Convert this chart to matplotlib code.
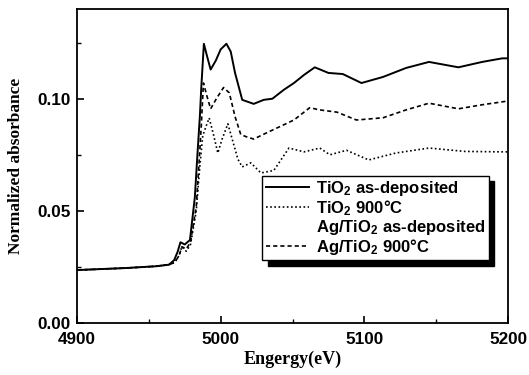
import numpy as np
import matplotlib
matplotlib.use("Agg")
import matplotlib.pyplot as plt
from matplotlib.ticker import MultipleLocator

# TiO2 as-deposited (solid)
e_asdep = [4900, 4934, 4955, 4964, 4967.6, 4970, 4972, 4975, 4978.6, 4982, 4984, 4985.5, 4986.5,
           4988.3, 4990.5, 4993, 4996.6, 5000, 5004, 5007, 5010, 5015, 5023, 5030, 5036, 5044,
           5051, 5058, 5065.5, 5075, 5085, 5098, 5113, 5129, 5145, 5165.5, 5182, 5196, 5200]
a_asdep = [0.0236, 0.0245, 0.0253, 0.026, 0.028, 0.0317, 0.036, 0.035, 0.037, 0.056, 0.077, 0.092, 0.105,
           0.1245, 0.119, 0.113, 0.117, 0.122, 0.1245, 0.121, 0.1115, 0.0995, 0.0977, 0.0995, 0.100, 0.104,
           0.107, 0.1106, 0.114, 0.1115, 0.111, 0.107, 0.1097, 0.1137, 0.1164, 0.114, 0.1164, 0.118, 0.118]

# Ag/TiO2 900C (dashed, middle)
e_ag900 = [4900, 4934, 4955, 4964, 4968, 4971, 4973, 4976, 4979, 4983, 4985, 4986.5, 4988, 4990.5,
           4993, 4997, 5002, 5006, 5010, 5014, 5018, 5023, 5032, 5041, 5051, 5062, 5069, 5081,
           5094.5, 5113, 5129, 5145, 5165.5, 5182, 5196, 5200]
a_ag900 = [0.0236, 0.0245, 0.0253, 0.026, 0.027, 0.030, 0.034, 0.033, 0.036, 0.052, 0.072, 0.088, 0.107, 0.101,
           0.0955, 0.100, 0.105, 0.1026, 0.092, 0.084, 0.083, 0.082, 0.0848, 0.0875, 0.0905, 0.096, 0.095, 0.094,
           0.0905, 0.0915, 0.095, 0.098, 0.0955, 0.0973, 0.0986, 0.099]

# TiO2 900C (dotted, lower)
e_ti900 = [4900, 4934, 4955, 4964, 4968, 4971, 4973, 4976, 4979, 4983, 4985.5, 4987.5, 4990, 4992,
           4995, 4998, 5001, 5005, 5008, 5012, 5015, 5021, 5028, 5037, 5047.5, 5058, 5069, 5076,
           5087.6, 5103, 5122, 5145, 5170, 5196, 5200]
a_ti900 = [0.0236, 0.0245, 0.0253, 0.026, 0.027, 0.030, 0.034, 0.032, 0.035, 0.050, 0.070, 0.0834, 0.088, 0.0914,
           0.084, 0.0758, 0.082, 0.0888, 0.082, 0.073, 0.0696, 0.0714, 0.0669, 0.068, 0.078, 0.0763, 0.078, 0.075,
           0.077, 0.0727, 0.0758, 0.078, 0.0765, 0.0763, 0.0763]

labels = ["TiO$_2$ as-deposited", "TiO$_2$ 900°C",
          "Ag/TiO$_2$ as-deposited", "Ag/TiO$_2$ 900°C"]

plt.rcParams['mathtext.fontset'] = 'custom'
plt.rcParams['mathtext.rm'] = 'Liberation Sans:bold'
plt.rcParams['mathtext.it'] = 'Liberation Sans:bold'

fig = plt.figure(figsize=(5.29, 3.75), dpi=100)
ax = fig.add_axes([0.1456, 0.1387, 0.8147, 0.8373])

l1, = ax.plot(e_asdep, a_asdep, color='black', lw=1.4, ls='-')
l2, = ax.plot(e_ti900, a_ti900, color='black', lw=1.2, ls=(0, (1, 1.5)))
l4, = ax.plot(e_ag900, a_ag900, color='black', lw=1.2, ls=(0, (2.5, 1.8)))
l3 = plt.Line2D([], [], linestyle='none')

ax.set_xlim(4900, 5200)
ax.set_ylim(0, 0.14)
ax.xaxis.set_major_locator(MultipleLocator(100))
ax.xaxis.set_minor_locator(MultipleLocator(50))
ax.yaxis.set_major_locator(MultipleLocator(0.05))
ax.yaxis.set_minor_locator(MultipleLocator(0.025))
ax.yaxis.set_major_formatter(plt.FormatStrFormatter('%.2f'))
ax.tick_params(which='both', direction='in')
ax.tick_params(which='major', length=5, width=1.2)
ax.tick_params(which='minor', length=3, width=1)
ax.tick_params(axis='x', pad=6.5)
ax.tick_params(axis='y', pad=4.5)
for s in ax.spines.values():
    s.set_linewidth(1.3)
for t in ax.get_xticklabels() + ax.get_yticklabels():
    t.set_fontfamily('Liberation Sans')
    t.set_fontweight('bold')
    t.set_fontsize(12.3)

ax.set_xlabel("Engergy(eV)", family='Liberation Serif', fontweight='bold', fontsize=13, labelpad=3)
ax.set_ylabel("Normalized absorbance", family='Liberation Serif', fontweight='bold', fontsize=12.5, labelpad=10)

leg = ax.legend([l1, l2, l3, l4], labels, loc='lower right', bbox_to_anchor=(0.955, 0.2),
                prop={'family': 'Liberation Sans', 'weight': 'bold', 'size': 12},
                frameon=True, fancybox=False, handlelength=2.6, handletextpad=0.4,
                labelspacing=0.0, borderpad=0.2, borderaxespad=0,
                shadow={'ox': 4, 'oy': -4, 'color': 'black', 'alpha': 1})
leg.get_frame().set_edgecolor('black')
leg.get_frame().set_linewidth(1.0)
leg.get_frame().set_alpha(1)

fig.savefig("out.png", dpi=100)
